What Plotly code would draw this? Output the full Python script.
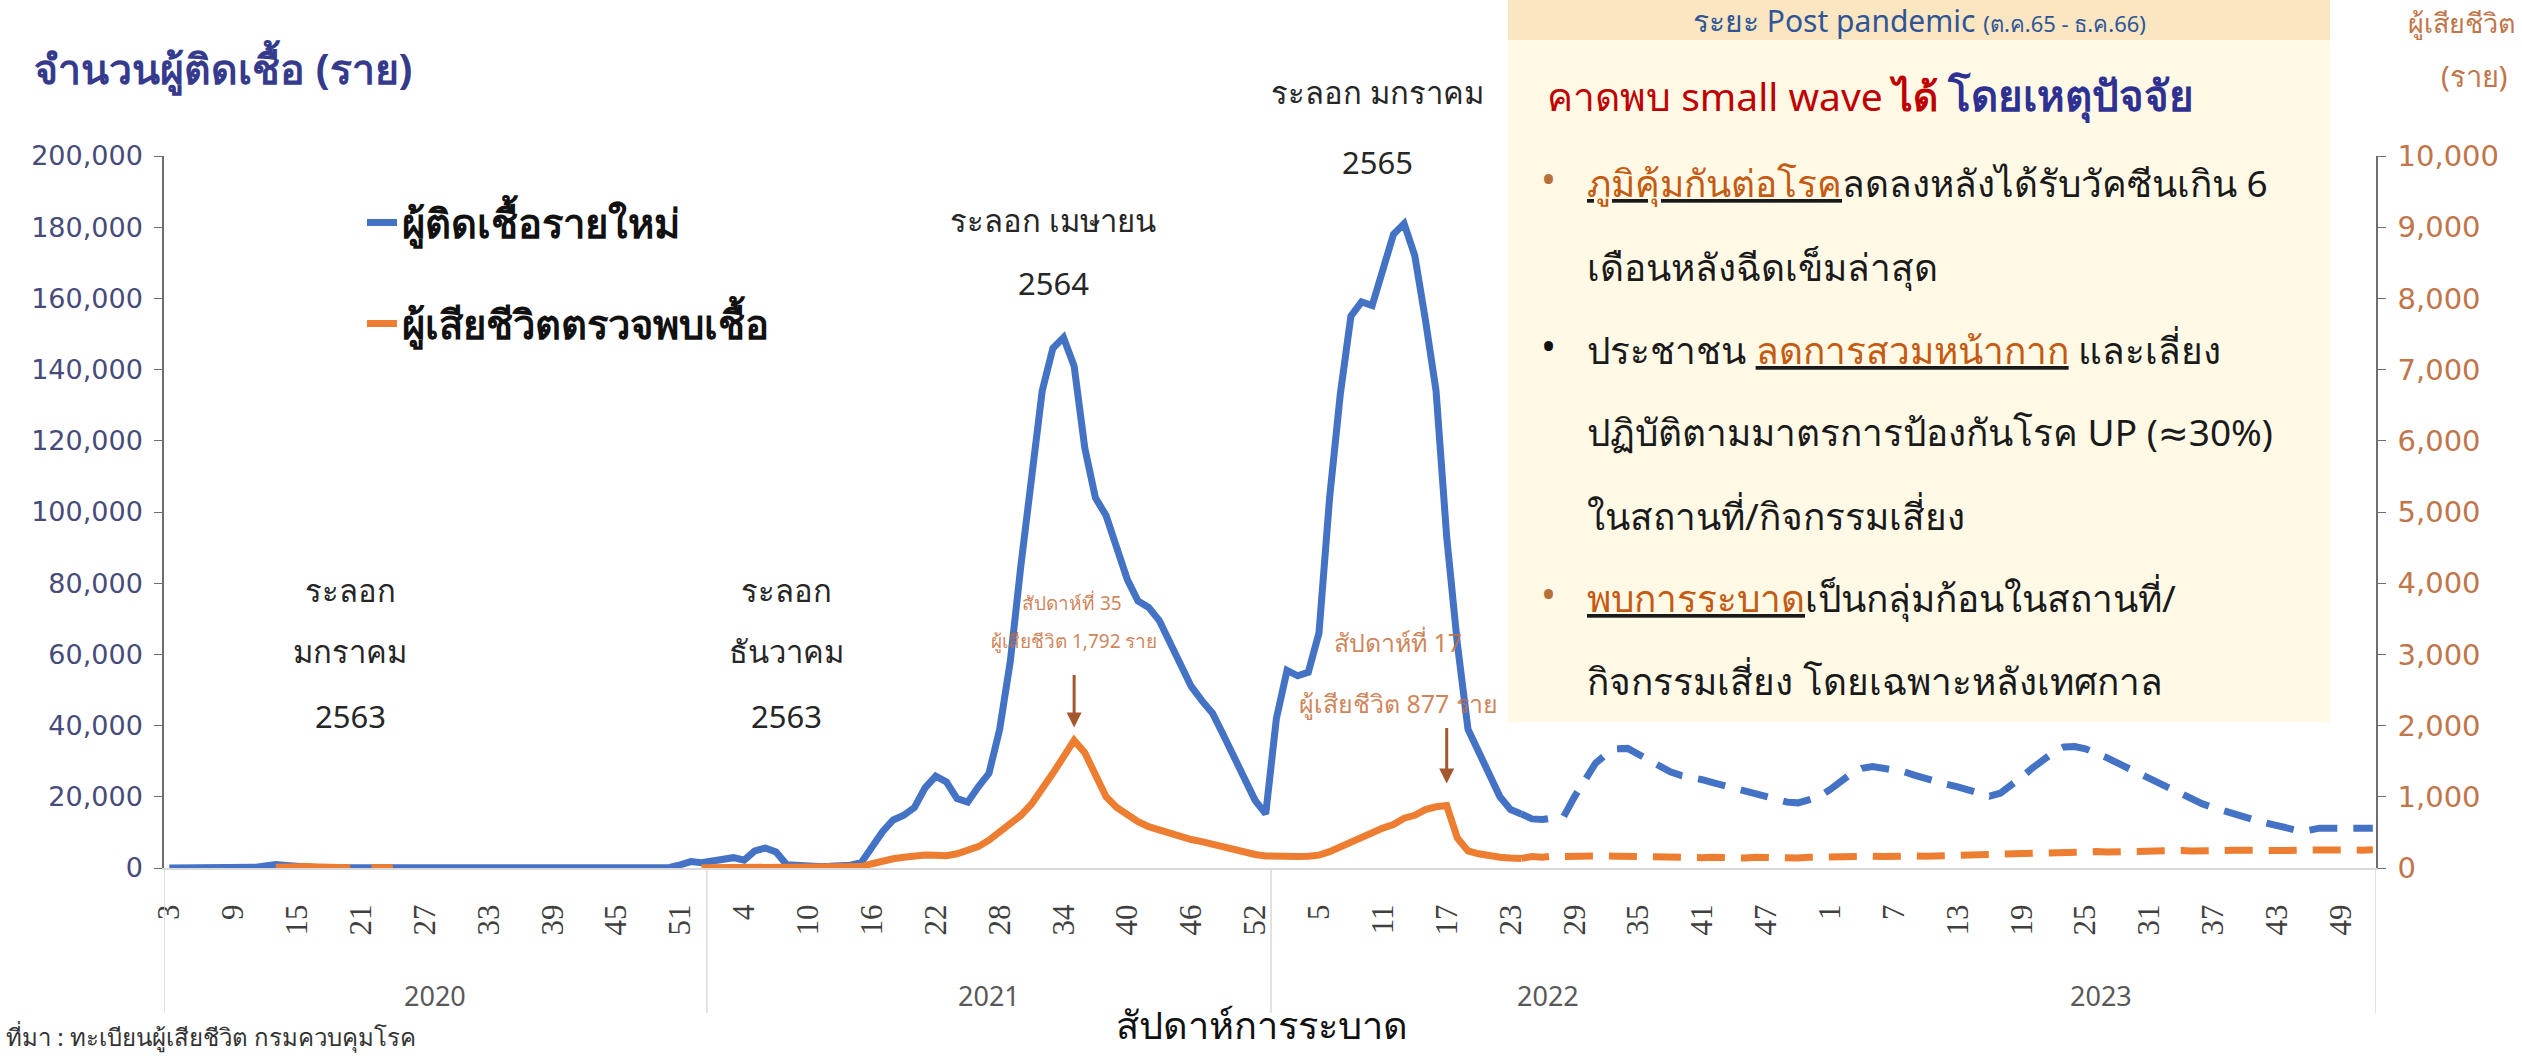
import plotly.graph_objects as go

# ---------------- data ----------------
years = ["2020", "2021", "2022", "2023"]
weeks_2020 = list(range(3, 54))
weeks_2021 = list(range(1, 54))
weeks_2022 = list(range(1, 53))
weeks_2023 = list(range(1, 53))

cases_2020 = [0, 2, 5, 8, 12, 20, 30,
              60, 180, 600, 950, 700, 350, 180, 70, 40,
              30, 20, 20, 15, 15, 10, 10, 10, 10, 10, 10, 10, 10, 10, 10, 10,
              10, 10, 10, 10, 10, 10, 10, 10, 10, 10, 10, 10, 20, 30, 60, 150,
              900, 1800, 1500]
cases_2021 = [1900, 2600, 2900, 2200, 4800, 5600, 4500, 900, 600, 500, 450, 500, 700, 800, 1500,
              6000, 10200, 13500, 14800, 17000, 22500, 25800, 24200, 19500, 18500, 22800, 26600, 38900, 58000, 85000,
              111000, 134000, 146000, 149000, 141000, 118000, 104000, 99000, 90000, 81000, 75000, 73200, 69500, 63000, 57000,
              51000, 47000, 43500, 37500, 31000, 24500, 19000, 15200]
cases_2022 = [42000, 55500, 54000, 55000, 66000, 104000, 133000, 155000, 159000, 158000, 168000, 178000,
              181000, 172000, 154000, 134000, 93000, 63000, 39000, 32500, 26000, 20000, 16400, 15200,
              13800, 13600, 14000, 14500, 20000, 25000, 29500, 32000, 33500, 33600, 32000, 30000,
              28500, 27000, 26000, 25600, 24800, 24000, 23200, 22500, 21800, 21000, 20200, 19200, 18500, 18300, 19000, 20000]
cases_2023 = [22000, 24500, 26500, 28000, 28500, 28000, 27500, 27000, 26000, 25000, 24300, 23500, 22800,
              22000, 21000, 20200, 21000, 23000, 25500, 28000, 30500, 32500, 34000, 34100, 33500, 32500,
              31000, 29500, 28000, 26500, 25000, 23500, 22000, 20500, 19200, 18000, 17000, 16000, 15200,
              14300, 13400, 12600, 11800, 11000, 10500, 10600, 11200, 11200, 11200, 11200, 11200, 11200]

deaths_2020 = [None] * 10 + [10, 20, 25, 20, 15, 10, 8, 5] + [None] + [5, 5, 5] + [None] * 28 + [2]
deaths_2021 = [3, 4, 3, 2, 2, 1, 1, 1, 1, 1, 1, 2, 3, 8,
               20, 60, 100, 130, 150, 170, 184, 180, 172, 200, 240, 300, 390,
               500, 600, 740, 900, 1100, 1330, 1560, 1792, 1620, 1330, 1000, 850, 740,
               650, 580, 530, 480, 440, 400, 370, 330, 300, 260, 230, 190, 170]
deaths_2022 = [160, 155, 160, 165, 180, 230, 300, 370, 430, 500, 560, 610,
               700, 740, 820, 860, 877, 420, 240, 200, 170, 150, 140, 135,
               160, 150, 170, 160, 165, 175, 160, 170, 165, 160, 155, 150, 145, 150,
               145, 140, 145, 150, 140, 135, 140, 150, 145, 140, 135, 140, 150, 155]
deaths_2023 = [150, 160, 165, 170, 165, 160, 170, 175, 170, 165, 170, 180, 185,
               180, 185, 190, 185, 190, 200, 210, 205, 210, 220, 225, 220, 230,
               225, 230, 235, 240, 230, 235, 240, 245, 240, 235, 240, 245, 250,
               245, 240, 245, 250, 245, 250, 255, 250, 245, 250, 255, 250, 255]

forecast_from = ("2022", 24)   # dashed (projected) part starts here
peak_notes = [("2021", 35, "สัปดาห์ที่ 35", "ผู้เสียชีวิต 1,792 ราย"),
              ("2022", 17, "สัปดาห์ที่ 17", "ผู้เสียชีวิต 877 ราย")]
wave_notes = [("2020", 20, ["ระลอก", "มกราคม", "2563"]),
              ("2021", 8, ["ระลอก", "ธันวาคม", "2563"])]

# ---------------- assemble category index ----------------
week_lists = [weeks_2020, weeks_2021, weeks_2022, weeks_2023]
year_of, week_of = [], []
for yr, wl in zip(years, week_lists):
    for w in wl:
        year_of.append(yr)
        week_of.append(w)
cases = cases_2020 + cases_2021 + cases_2022 + cases_2023
deaths = deaths_2020 + deaths_2021 + deaths_2022 + deaths_2023
idx = list(range(len(cases)))


def pos(year, week):
    return [i for i in idx if year_of[i] == year and week_of[i] == week][0]


split = pos(*forecast_from)

# ---------------- layout geometry (pixels) ----------------
W, H = 2522, 1058
L, R, T, B = 164, 2376, 156, 868
XR = [-0.5, len(idx) - 0.7]


def px(X):
    return (X - L) / (R - L)


def py(Y):
    return (B - Y) / (B - T)


BLUE = "#4472C4"
ORANGE = "#ED7D31"
THAI = "Tahoma, 'Noto Sans', 'DejaVu Sans', sans-serif"


def note(X, Y, text, size, color="#262626", xanchor="center", weight=None, xref="paper"):
    f = dict(family=THAI, size=size, color=color)
    if weight:
        f["weight"] = weight
    return dict(x=px(X) if xref == "paper" else X, y=py(Y), xref=xref, yref="paper", text=text,
                showarrow=False, xanchor=xanchor, yanchor="middle", font=f)


fig = go.Figure()
fig.add_trace(go.Scatter(x=idx[:split + 1], y=cases[:split + 1], mode="lines",
                         line=dict(color=BLUE, width=7), name="ผู้ติดเชื้อรายใหม่",
                         legendgroup="a", hoverinfo="skip"))
fig.add_trace(go.Scatter(x=idx[split:], y=cases[split:], mode="lines",
                         line=dict(color=BLUE, width=7, dash="28px,16px"), showlegend=False,
                         legendgroup="a", hoverinfo="skip"))
fig.add_trace(go.Scatter(x=idx[:split + 1], y=deaths[:split + 1], mode="lines", yaxis="y2",
                         line=dict(color=ORANGE, width=7), name="ผู้เสียชีวิตตรวจพบเชื้อ",
                         legendgroup="b", connectgaps=False, hoverinfo="skip"))
fig.add_trace(go.Scatter(x=idx[split:], y=deaths[split:], mode="lines", yaxis="y2",
                         line=dict(color=ORANGE, width=7, dash="28px,16px"), showlegend=False,
                         legendgroup="b", hoverinfo="skip"))

tickvals = [i for i in idx if i % 6 == 0]
ticktext = [str(week_of[i]) for i in tickvals]

shapes = []
# info box
shapes.append(dict(type="rect", xref="paper", yref="paper", x0=px(1508), x1=px(2330), y0=py(722), y1=py(-5),
                   fillcolor="#FFF9E6", line=dict(width=0), layer="below"))
shapes.append(dict(type="rect", xref="paper", yref="paper", x0=px(1508), x1=px(2330), y0=py(40), y1=py(-5),
                   fillcolor="#FBE6C2", line=dict(width=0), layer="below"))
# year dividers of the category axis
bounds = [-0.5] + [pos(y, w[-1]) + 0.5 for y, w in zip(years[:2], week_lists[:2])] + [XR[1]]
for bx in bounds:
    shapes.append(dict(type="line", xref="x", yref="paper", x0=bx, x1=bx, y0=0, y1=py(1013),
                       line=dict(color="#D9D9D9", width=1.5)))

ann = []
# year labels
for yr in years:
    members = [i for i in idx if year_of[i] == yr]
    ann.append(note((members[0] + members[-1]) / 2, 995, yr, 27, "#595959", xref="x"))
# axis titles and source
ann.append(note(32, 68, "จำนวนผู้ติดเชื้อ (ราย)", 41, "#363A8C", xanchor="left", weight=700))
ann.append(note(2518, 22, "ผู้เสียชีวิต", 27, "#C0764A", xanchor="right"))
ann.append(note(2474, 76, "(ราย)", 29, "#C0764A"))
ann.append(note(1262, 1024, "สัปดาห์การระบาด", 38, "#111111"))
ann.append(note(4, 1036, "ที่มา : ทะเบียนผู้เสียชีวิต กรมควบคุมโรค", 24, "#333333", xanchor="left"))
# wave labels
for yr, wk, lines in wave_notes:
    for ln, Y in zip(lines, [590, 651, 716]):
        ann.append(note(pos(yr, wk), Y, ln, 31, xref="x"))
ann.append(note(1053, 220, "ระลอก เมษายน", 31))
ann.append(note(1053, 283, "2564", 31))
ann.append(note(1377, 92, "ระลอก มกราคม", 31))
ann.append(note(1377, 162, "2565", 31))
# peak death notes with arrows
NOTE = "rgba(200,110,60,0.85)"
note_geom = [((1072, 603), (1074, 641), 19, 13, -67), ((1398, 642), (1398, 703), 25, 22, -79)]
for (yr, wk, t1, t2), (p1, p2, fs, so, ay) in zip(peak_notes, note_geom):
    ann.append(note(p1[0], p1[1], t1, fs, NOTE))
    ann.append(note(p2[0], p2[1], t2, fs, NOTE))
    i = pos(yr, wk)
    ann.append(dict(x=i, y=deaths[i], xref="x", yref="y2", text="", showarrow=True, ax=0, ay=ay,
                    standoff=so, arrowhead=2, arrowsize=1, arrowwidth=3, arrowcolor="#A5582F"))
# info box text
UL = "#C55A11"
ann.append(note(1920, 21, "ระยะ Post pandemic <span style='font-size:22px'>(ต.ค.65 - ธ.ค.66)</span>",
                30, "#2F5597"))
ann.append(note(1545, 94,
                "<span style='color:#C00000'>คาดพบ small wave <b>ได้</b></span> "
                "<span style='color:#2E3192;font-size:42px'><b>โดยเหตุปัจจัย</b></span>",
                39, xanchor="left"))
box_lines = [
    (182, "#B8703A", f"<u><span style='color:{UL}'>ภูมิคุ้มกันต่อโรค</span></u>ลดลงหลังได้รับวัคซีนเกิน 6"),
    (266, None, "เดือนหลังฉีดเข็มล่าสุด"),
    (349, "#111111", f"ประชาชน <u><span style='color:{UL}'>ลดการสวมหน้ากาก</span></u> และเลี่ยง"),
    (431, None, "ปฏิบัติตามมาตรการป้องกันโรค UP (≈30%)"),
    (515, None, "ในสถานที่/กิจกรรมเสี่ยง"),
    (597, "#B8703A", f"<u><span style='color:{UL}'>พบการระบาด</span></u>เป็นกลุ่มก้อนในสถานที่/"),
    (680, None, "กิจกรรมเสี่ยง โดยเฉพาะหลังเทศกาล"),
]
for Y, dot, txt in box_lines:
    if dot:
        ann.append(note(1548, Y - 4, "•", 40, dot))
    ann.append(note(1585, Y, txt, 37, "#1A1A1A", xanchor="left"))

fig.update_layout(
    width=W, height=H,
    margin=dict(l=L, r=W - R, t=T, b=H - B, pad=0),
    paper_bgcolor="white", plot_bgcolor="white",
    showlegend=True,
    legend=dict(x=px(362), y=py(190), xanchor="left", yanchor="top", traceorder="grouped",
                tracegroupgap=46, bgcolor="rgba(0,0,0,0)",
                font=dict(family=THAI, size=40, color="#111111", weight=700)),
    xaxis=dict(range=XR, tickmode="array", tickvals=tickvals, ticktext=ticktext, tickangle=-90,
               showgrid=False, zeroline=False, showline=True, linecolor="#D9D9D9", linewidth=2,
               ticks="", ticklabelstandoff=22,
               tickfont=dict(family="'Liberation Serif', serif", size=31, color="#404040")),
    yaxis=dict(range=[0, 200000], dtick=20000, tickformat=",", showgrid=False, zeroline=False,
               showline=True, linecolor="#6E6E6E", linewidth=1.5, ticks="outside", ticklen=8,
               tickcolor="#6E6E6E", ticklabelstandoff=6,
               tickfont=dict(family="'DejaVu Sans', sans-serif", size=27, color="#474B7A")),
    yaxis2=dict(range=[0, 10000], dtick=1000, tickformat=",", overlaying="y", side="right",
                showgrid=False, zeroline=False, showline=True, linecolor="#6E6E6E", linewidth=1.5,
                ticks="outside", ticklen=8, tickcolor="#6E6E6E", ticklabelstandoff=6,
                tickfont=dict(family="'DejaVu Sans', sans-serif", size=29, color="#C0764A")),
    shapes=shapes, annotations=ann,
)

fig.write_html("out.html", config={"displayModeBar": False},
               post_script="document.body.style.margin='0';")
